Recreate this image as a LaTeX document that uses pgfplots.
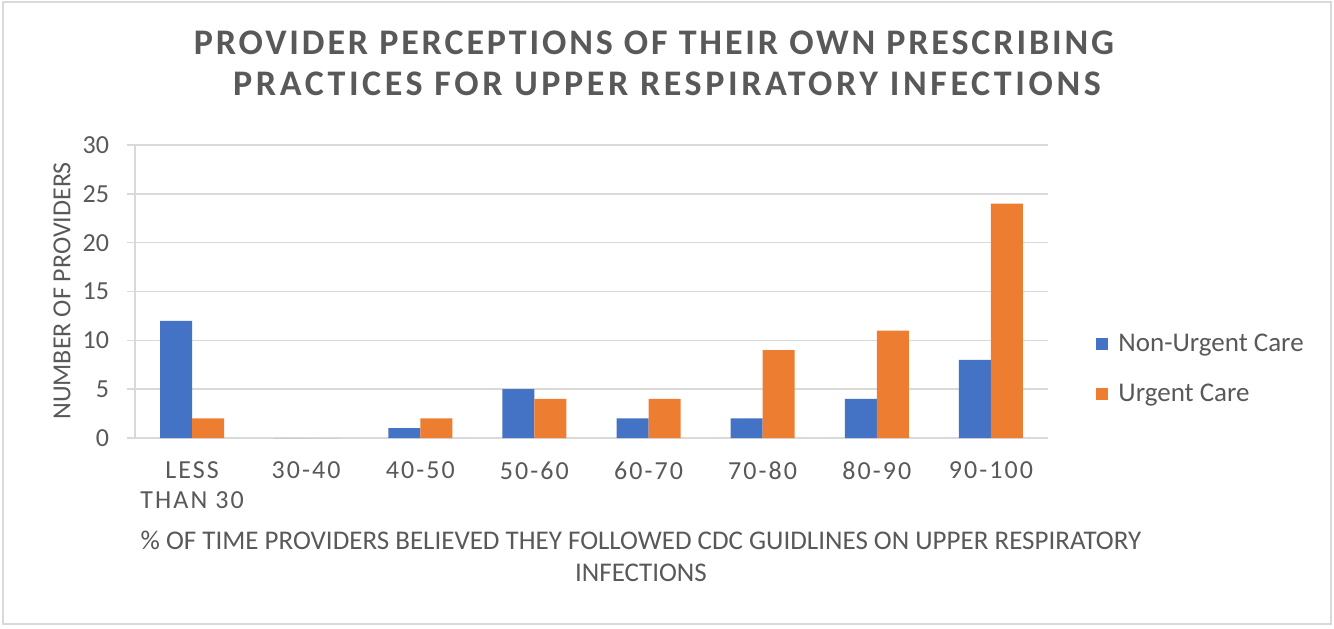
\documentclass[border=0pt]{standalone}
\usepackage{fontspec}
\setmainfont{Carlito}
\newfontfamily\spaced[LetterSpace=8]{Carlito}
\newfontfamily\titlefont[LetterSpace=8]{Carlito}
\newfontfamily\titlefontb[LetterSpace=10]{Carlito}
\usepackage{pgfplots}
\pgfplotsset{compat=1.18}
\definecolor{txt}{HTML}{595959}
\definecolor{gridc}{HTML}{D9D9D9}
\definecolor{ncare}{HTML}{4472C4}
\definecolor{ucare}{HTML}{ED7D31}

\begin{document}
\begin{tikzpicture}[x=0.5pt,y=0.5pt]
\useasboundingbox (0,0) rectangle (1334,628);
\fill[white] (0,0) rectangle (1334,628);
\draw[gridc, line width=0.75pt] (3,4) rectangle (1331,626);

% title
\node[txt, font=\titlefont\bfseries\fontsize{18}{21}\selectfont] at (654,585) {PROVIDER PERCEPTIONS OF THEIR OWN PRESCRIBING};
\node[txt, font=\titlefontb\bfseries\fontsize{18}{21}\selectfont] at (667,544) {PRACTICES FOR UPPER RESPIRATORY INFECTIONS};

\begin{axis}[
    at={(67.5pt,95pt)}, anchor=south west,
    scale only axis,
    width=456.5pt, height=146.5pt,
    ybar=0pt, bar width=16pt,
    xmin=-0.5, xmax=7.5,
    ymin=0, ymax=30,
    ytick={0,5,...,30},
    xtick={0,...,7},
    xticklabels={LESS\\THAN 30, 30-40, 40-50, 50-60, 60-70, 70-80, 80-90, 90-100},
    axis x line*=bottom, axis y line*=left,
    axis line style={gridc, line width=0.75pt, -},
    ymajorgrids, grid style={gridc, line width=0.75pt},
    tick align=outside, major tick length=4pt,
    xtick style={draw=none},
    ytick style={gridc, line width=0.75pt},
    xticklabel style={txt, align=center, yshift=-4.5pt, font=\spaced\fontsize{13}{15}\selectfont},
    yticklabel style={txt, xshift=-5.5pt, font=\fontsize{13}{15}\selectfont},
    /pgf/number format/assume math mode=true,
    legend style={at={(1.0526,0.235)}, anchor=west, draw=none, fill=none,
        font=\fontsize{13.5}{15}\selectfont, text=txt, row sep=11pt, inner sep=0pt,
        cells={anchor=west}, nodes={inner xsep=5pt}},
    legend image code/.code={\fill[#1] (0pt,-3pt) rectangle (6pt,3pt);},
]
\addplot[fill=ncare, draw=none] coordinates {
    (0,12) (1,0) (2,1) (3,5) (4,2) (5,2) (6,4) (7,8)
};
\addplot[fill=ucare, draw=none] coordinates {
    (0,2) (1,0) (2,2) (3,4) (4,4) (5,9) (6,11) (7,24)
};
\legend{Non-Urgent Care, Urgent Care}
\end{axis}

\node[txt, rotate=90, font=\fontsize{13}{15}\selectfont] at (62,337) {NUMBER OF PROVIDERS};
\node[txt, align=center, font=\fontsize{13.5}{16}\selectfont] at (641,72) {\% OF TIME PROVIDERS BELIEVED THEY FOLLOWED CDC GUIDLINES ON UPPER RESPIRATORY\\INFECTIONS};
\end{tikzpicture}
\end{document}
